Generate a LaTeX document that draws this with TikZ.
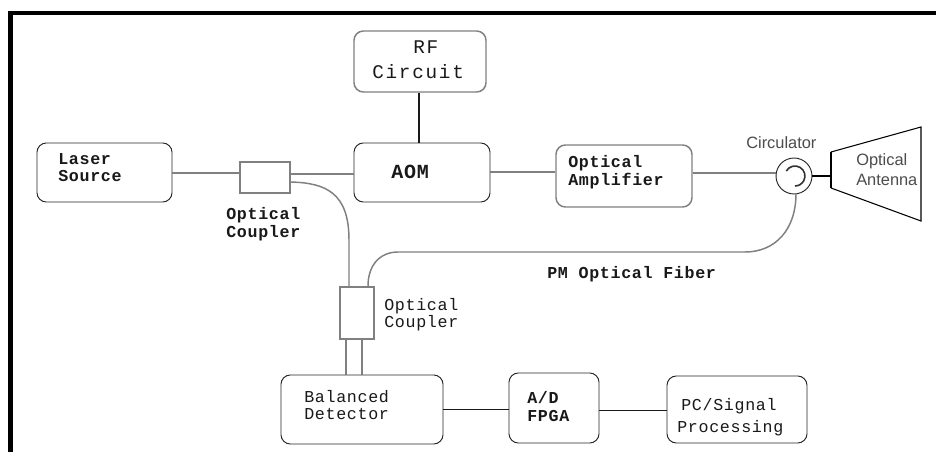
\documentclass[tikz,border=0pt]{standalone}
\usepackage{fontspec}
\setmainfont{Liberation Sans}
\newfontfamily\cour[LetterSpace=4]{Liberation Mono}
\newfontfamily\courw[LetterSpace=9]{Liberation Mono}
\tikzset{x=0.75pt,y=-0.75pt,
 gbox/.style={draw=black!50,line width=1.1pt,rounded corners=7pt,fill=none,inner sep=0pt},
 kbox/.style={draw=black!85,line width=0.7pt,rounded corners=7pt,fill=none,inner sep=0pt},
 coup/.style={draw=black!50,line width=1.2pt,inner sep=0pt},
 fib/.style={draw=black!50,line width=1.1pt},
 wire/.style={draw=black!90,line width=0.75pt},
 mono/.style={font=\cour\fontsize{12.5}{13}\selectfont,align=left,inner sep=0pt,anchor=north west,text=black!90},
 monob/.style={mono,font=\cour\bfseries\fontsize{12.5}{13}\selectfont},
 sans/.style={font=\fontsize{12.3}{15}\selectfont,text=black!70,inner sep=0pt,align=left,anchor=north west}}
\begin{document}
\begin{tikzpicture}
\useasboundingbox (0,0) rectangle (936,452);
\fill[white] (0,0) rectangle (936,452);
\fill[black] (8,11) rectangle (936,15);
\fill[black] (8,11) rectangle (12.5,452);
\node[gbox,minimum width=132*0.75pt,minimum height=61*0.75pt] (rf) at (420,61.5) {};
\node[kbox,minimum width=135*0.75pt,minimum height=59*0.75pt] (laser) at (104.5,172.5) {};
\node[kbox,minimum width=136*0.75pt,minimum height=59*0.75pt] (aom) at (422,172.5) {};
\node[gbox,minimum width=136*0.75pt,minimum height=62*0.75pt] (amp) at (624,176) {};
\node[coup,minimum width=50*0.75pt,minimum height=31*0.75pt] (c1) at (265,177.5) {};
\node[coup,minimum width=34*0.75pt,minimum height=52*0.75pt] (c2) at (357,313) {};
\node[kbox,minimum width=162*0.75pt,minimum height=69*0.75pt] (bd) at (362,409.5) {};
\node[kbox,minimum width=90*0.75pt,minimum height=70*0.75pt] (ad) at (554,408) {};
\node[kbox,minimum width=140*0.75pt,minimum height=67*0.75pt] (pc) at (737,409.5) {};
\node[draw=black!85,line width=0.7pt,circle,minimum size=36*0.75pt,inner sep=0pt] (circ) at (794,176) {};
\draw[black!80,line width=1.2pt] (786.3,171) arc (-150:90:10);
\coordinate (antT) at (831,152);
\coordinate (antB) at (831,188);
\draw[black,line width=0.8pt] (antT) -- (921,127) -- (921,221) -- (antB);
\draw[black,line width=1.6pt] (antT) -- (antB);
\draw[black,line width=1.6pt] (circ.east) -- (831,176);
\draw[black!90,line width=1.2pt] (rf.south -| 419,0) -- (aom.north -| 419,0);
\draw[fib] (laser.east |- 0,173) -- (c1.west |- 0,173);
\draw[fib] (c1.east |- 0,174) -- (aom.west |- 0,174);
\draw[fib] (aom.east |- 0,172) -- (amp.west |- 0,172);
\draw[fib] (amp.east |- 0,173) -- (circ.west |- 0,173);
\draw[fib] (c1.east |- 0,182) .. controls (325,183) and (349,192) .. (349,240) -- (c2.north -| 349,0);
\draw[fib] (796,193.5) .. controls (796,230) and (775,252) .. (745,252) -- (398,252) .. controls (380,252) and (368,265) .. (c2.north -| 368,0);
\draw[fib] (c2.south -| 346,0) -- (bd.north -| 346,0);
\draw[fib] (c2.south -| 362,0) -- (bd.north -| 362,0);
\draw[wire] (bd.east |- 0,410) -- (ad.west |- 0,410);
\draw[wire] (ad.east |- 0,411) -- (pc.west |- 0,411);
\node[mono,font=\courw\fontsize{14.5}{17.25}\selectfont,anchor=north west] at (413,41) {RF};
\node[mono,font=\courw\fontsize{14.5}{17.25}\selectfont,anchor=north west] at (372,64) {Circuit};
\node[monob] at (58,153) {Laser\\Source};
\node[monob,font=\cour\bfseries\fontsize{15}{17}\selectfont] at (391,165) {AOM};
\node[monob,font=\cour\bfseries\fontsize{12.5}{13.5}\selectfont] at (568,155) {Optical\\Amplifier};
\node[monob,font=\cour\bfseries\fontsize{12.5}{13.5}\selectfont] at (226,207) {Optical\\Coupler};
\node[mono] at (384,298) {Optical\\Coupler};
\node[monob] at (547,266) {PM Optical Fiber};
\node[mono] at (304,390) {Balanced\\Detector};
\node[monob,font=\cour\bfseries\fontsize{12.5}{13.5}\selectfont] at (527,391) {A/D\\FPGA};
\node[mono,font=\cour\fontsize{12.5}{16.5}\selectfont] at (681,398) {PC/Signal};
\node[mono] at (677,420) {Processing};
\node[sans] at (746,136) {Circulator};
\node[sans] at (856,153) {Optical\\Antenna};
\end{tikzpicture}
\end{document}
